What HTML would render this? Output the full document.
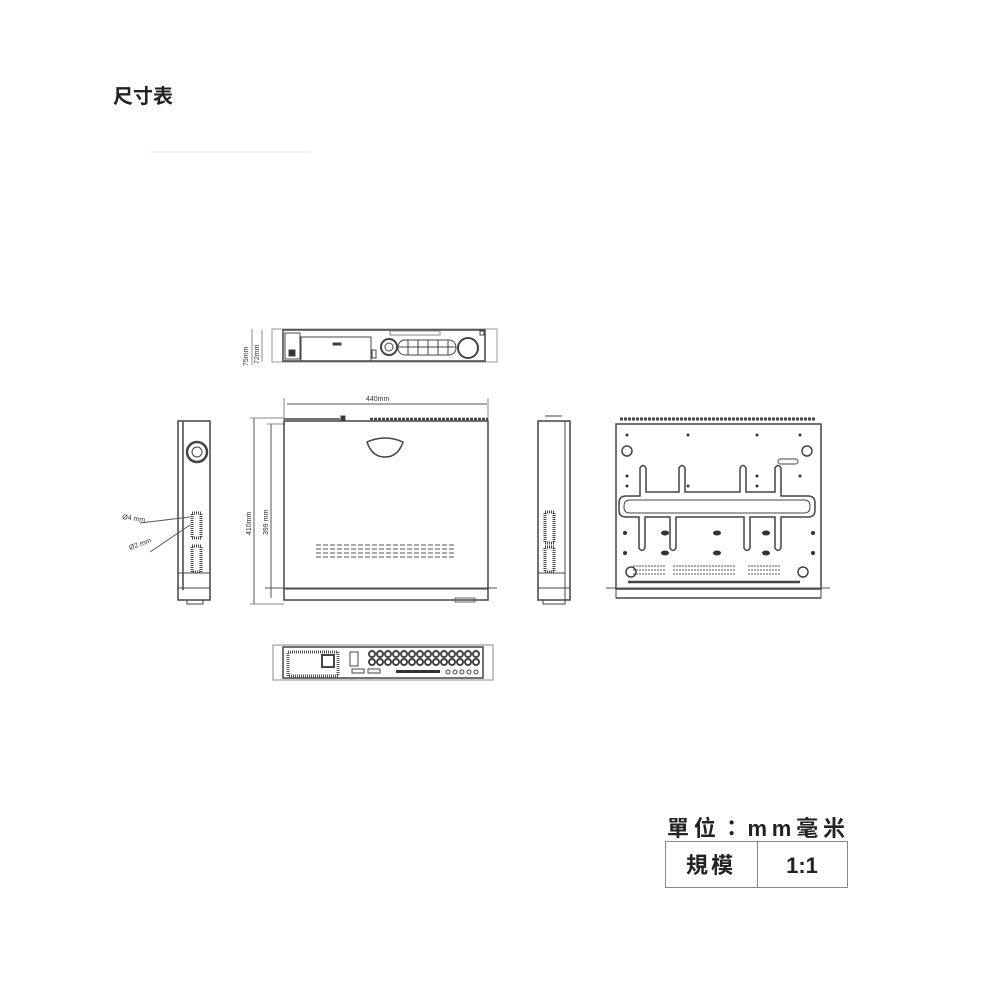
<!DOCTYPE html>
<html><head><meta charset="utf-8"><style>
html,body{margin:0;padding:0;background:#fff;width:1000px;height:1000px;overflow:hidden}
svg{display:block}
</style></head><body>
<svg width="1000" height="1000" viewBox="0 0 1000 1000" xmlns="http://www.w3.org/2000/svg" font-family="'Liberation Sans','Noto Sans CJK TC',sans-serif">
<text x="113" y="103" font-size="20" font-weight="bold" fill="#222" font-family="'Liberation Sans','Noto Sans CJK TC',sans-serif">尺寸表</text>
<line x1="150" y1="152" x2="310" y2="152" stroke="#f2f2f2" stroke-width="2"/>
<g fill="none" stroke="#444" stroke-width="1">
<rect x="272" y="329" width="225" height="33" stroke="#999"/>
<rect x="283" y="330" width="202" height="31" stroke-width="1.5"/>
<rect x="285" y="333" width="15" height="26"/>
<rect x="301" y="337" width="70" height="24"/>
<rect x="333" y="343" width="8" height="2" fill="#333"/>
<rect x="372" y="350" width="4" height="8"/>
<circle cx="389" cy="347" r="8" stroke-width="2"/>
<circle cx="389" cy="347" r="4"/>
<rect x="398" y="340" width="58" height="15" rx="7"/>
<line x1="408" y1="340" x2="408" y2="355"/><line x1="418" y1="340" x2="418" y2="355"/><line x1="428" y1="340" x2="428" y2="355"/><line x1="438" y1="340" x2="438" y2="355"/><line x1="448" y1="340" x2="448" y2="355"/>
<line x1="398" y1="347" x2="456" y2="347"/>
<rect x="390" y="331" width="50" height="4" stroke="#888"/>
<circle cx="468" cy="348" r="10" stroke-width="2"/>
<rect x="480" y="331" width="4" height="4"/>
<rect x="289" y="350" width="6" height="6" fill="#333"/>
<line x1="252" y1="329" x2="252" y2="365" stroke="#888"/>
<line x1="262" y1="330" x2="262" y2="362" stroke="#888"/>
<line x1="287" y1="404" x2="487" y2="404" stroke="#555"/>
<line x1="284" y1="398" x2="284" y2="420" stroke="#888"/>
<line x1="488" y1="398" x2="488" y2="420" stroke="#888"/>
<line x1="254" y1="418" x2="254" y2="604" stroke="#555"/>
<line x1="250" y1="418" x2="284" y2="418" stroke="#888"/>
<line x1="250" y1="604" x2="284" y2="604" stroke="#888"/>
<line x1="271" y1="424" x2="271" y2="598" stroke="#555"/>
<line x1="267" y1="424" x2="284" y2="424" stroke="#888"/>
<line x1="265" y1="588" x2="497" y2="588" stroke="#555"/>
<rect x="284" y="421" width="204" height="179" stroke-width="1.5"/>
<line x1="284" y1="419" x2="340" y2="419" stroke-width="1.5"/>
<rect x="341" y="416" width="4" height="5" fill="#333"/>
<path d="M370 419 L488 419" stroke-dasharray="3,1" stroke-width="2.5"/>
<line x1="284" y1="589" x2="488" y2="589"/>
<path d="M367 442 Q385 434 403 442 Q398 457 385 457 Q372 457 367 442 Z" stroke-width="1.5"/>
<g stroke-dasharray="5,2" stroke="#555">
<line x1="316" y1="545" x2="456" y2="545"/><line x1="316" y1="549" x2="456" y2="549"/><line x1="316" y1="553" x2="456" y2="553"/><line x1="316" y1="557" x2="456" y2="557"/>
</g>
<rect x="455" y="598" width="20" height="4" stroke="#666"/>
<rect x="178" y="421" width="32" height="179" stroke-width="1.5"/>
<line x1="183" y1="421" x2="183" y2="590" stroke-width="1.5"/>
<line x1="178" y1="573" x2="210" y2="573"/>
<line x1="178" y1="588" x2="210" y2="588"/>
<circle cx="197" cy="452" r="10" stroke-width="2.5"/>
<circle cx="197" cy="452" r="5"/>
<rect x="192" y="513" width="9" height="25" stroke-dasharray="1,1" stroke-width="3"/>
<rect x="192" y="546" width="9" height="26" stroke-dasharray="1,1" stroke-width="3"/>
<rect x="187" y="600" width="16" height="4"/>
<line x1="140" y1="523" x2="190" y2="517" stroke="#555"/>
<line x1="150" y1="552" x2="190" y2="525" stroke="#555"/>
<rect x="538" y="421" width="32" height="179" stroke-width="1.5"/>
<line x1="565" y1="421" x2="565" y2="600"/>
<line x1="538" y1="573" x2="565" y2="573"/>
<line x1="538" y1="588" x2="570" y2="588"/>
<rect x="545" y="512" width="9" height="31" stroke-dasharray="1,1" stroke-width="3"/>
<rect x="545" y="547" width="9" height="25" stroke-dasharray="1,1" stroke-width="3"/>
<rect x="543" y="600" width="22" height="4"/>
<line x1="545" y1="416" x2="562" y2="416"/>
<rect x="616" y="424" width="205" height="165" stroke-width="1.5"/>
<line x1="620" y1="419" x2="815" y2="419" stroke-dasharray="3,1" stroke-width="3"/>
<line x1="606" y1="588" x2="830" y2="588" stroke="#555"/>
<rect x="616" y="589" width="205" height="9"/>
<line x1="616" y1="598" x2="821" y2="598" stroke-width="1.5"/>
<circle cx="627" cy="451" r="5" stroke-width="1.5"/>
<circle cx="807" cy="451" r="5" stroke-width="1.5"/>
<circle cx="631" cy="572" r="5" stroke-width="1.5"/>
<circle cx="803" cy="572" r="5" stroke-width="1.5"/>
<rect x="778" y="459" width="20" height="5" rx="2.5"/>
<path d="M626 496 H640 V468 Q643 463 646 468 V492 H679 V468 Q682 463 685 468 V492 H740 V468 Q743 463 746 468 V492 H775 V468 Q778 463 781 468 V496 H808 Q815 496 815 503 V510 Q815 517 808 517 H781 V548 Q778 553 775 548 V517 H750 V548 Q747 553 744 548 V517 H676 V548 Q673 553 670 548 V517 H645 V548 Q642 553 639 548 V517 H626 Q619 517 619 510 V503 Q619 496 626 496 Z" stroke-width="1.5"/>
<path d="M630 500 H804 Q810 500 810 506 V507 Q810 513 804 513 H630 Q624 513 624 507 V506 Q624 500 630 500 Z"/>
<line x1="628" y1="582" x2="800" y2="582" stroke-width="2.5"/>
<g stroke-dasharray="2,1" stroke="#555">
<line x1="633" y1="566" x2="665" y2="566"/><line x1="633" y1="570" x2="665" y2="570"/><line x1="633" y1="574" x2="665" y2="574"/>
<line x1="673" y1="566" x2="735" y2="566"/><line x1="673" y1="570" x2="735" y2="570"/><line x1="673" y1="574" x2="735" y2="574"/>
<line x1="748" y1="566" x2="780" y2="566"/><line x1="748" y1="570" x2="780" y2="570"/><line x1="748" y1="574" x2="780" y2="574"/>
</g>
</g>
<g fill="#333">
<circle cx="625" cy="533" r="2"/><circle cx="813" cy="533" r="2"/><circle cx="625" cy="553" r="2"/><circle cx="813" cy="553" r="2"/>
<ellipse cx="665" cy="533" rx="4" ry="2.5"/><ellipse cx="717" cy="533" rx="4" ry="2.5"/><ellipse cx="766" cy="533" rx="4" ry="2.5"/>
<ellipse cx="665" cy="553" rx="4" ry="2.5"/><ellipse cx="717" cy="553" rx="4" ry="2.5"/><ellipse cx="766" cy="553" rx="4" ry="2.5"/>
<circle cx="627" cy="435" r="1.5"/><circle cx="688" cy="435" r="1.5"/><circle cx="757" cy="435" r="1.5"/><circle cx="800" cy="435" r="1.5"/>
<circle cx="627" cy="476" r="1.5"/><circle cx="757" cy="476" r="1.5"/><circle cx="800" cy="476" r="1.5"/>
<circle cx="627" cy="486" r="1.5"/><circle cx="688" cy="486" r="1.5"/><circle cx="757" cy="486" r="1.5"/>
</g>
<g fill="none" stroke="#444">
<rect x="273" y="645" width="220" height="35" stroke="#888"/>
<rect x="283" y="647" width="200" height="31" stroke-width="1.5"/>
<rect x="288" y="652" width="50" height="24" stroke-dasharray="1,1" stroke-width="3" stroke="#555"/>
<rect x="322" y="655" width="12" height="12" stroke-width="2"/>
<rect x="350" y="652" width="8" height="14"/>
<g stroke-width="2">
<circle cx="372" cy="654" r="3"/><circle cx="380" cy="654" r="3"/><circle cx="388" cy="654" r="3"/><circle cx="396" cy="654" r="3"/><circle cx="404" cy="654" r="3"/><circle cx="412" cy="654" r="3"/><circle cx="420" cy="654" r="3"/><circle cx="428" cy="654" r="3"/><circle cx="436" cy="654" r="3"/><circle cx="444" cy="654" r="3"/><circle cx="452" cy="654" r="3"/><circle cx="460" cy="654" r="3"/><circle cx="468" cy="654" r="3"/><circle cx="476" cy="654" r="3"/>
<circle cx="372" cy="662" r="3"/><circle cx="380" cy="662" r="3"/><circle cx="388" cy="662" r="3"/><circle cx="396" cy="662" r="3"/><circle cx="404" cy="662" r="3"/><circle cx="412" cy="662" r="3"/><circle cx="420" cy="662" r="3"/><circle cx="428" cy="662" r="3"/><circle cx="436" cy="662" r="3"/><circle cx="444" cy="662" r="3"/><circle cx="452" cy="662" r="3"/><circle cx="460" cy="662" r="3"/><circle cx="468" cy="662" r="3"/><circle cx="476" cy="662" r="3"/>
</g>
<g stroke-width="1">
<circle cx="448" cy="672" r="2"/><circle cx="455" cy="672" r="2"/><circle cx="462" cy="672" r="2"/><circle cx="469" cy="672" r="2"/><circle cx="476" cy="672" r="2"/>
</g>
<rect x="352" y="669" width="12" height="4"/><rect x="368" y="669" width="12" height="4"/>
</g>
<rect x="396" y="670" width="44" height="3" fill="#333"/>
<g font-size="7" fill="#333">
<text x="366" y="401">440mm</text>
<text transform="translate(248,366) rotate(-90)">75mm</text>
<text transform="translate(259,364) rotate(-90)">72mm</text>
<text transform="translate(251,535) rotate(-90)">410mm</text>
<text transform="translate(268,535) rotate(-90)">399 mm</text>
<text transform="translate(122,519) rotate(8)">Ø4 mm</text>
<text transform="translate(130,550) rotate(-20)">Ø2 mm</text>
</g>
<text x="667" y="836" font-size="22" font-weight="bold" fill="#222" textLength="178" lengthAdjust="spacing" font-family="'Liberation Sans','Noto Sans CJK TC',sans-serif">單位：mm毫米</text>
<rect x="665.5" y="841.5" width="182" height="46" fill="none" stroke="#888"/>
<line x1="757.5" y1="841" x2="757.5" y2="888" stroke="#888"/>
<text x="711" y="873" font-size="22" font-weight="bold" fill="#222" text-anchor="middle" letter-spacing="3" font-family="'Liberation Sans','Noto Sans CJK TC',sans-serif">規模</text>
<text x="802" y="873" font-size="22" font-weight="bold" fill="#222" text-anchor="middle">1:1</text>
</svg>
</body></html>
